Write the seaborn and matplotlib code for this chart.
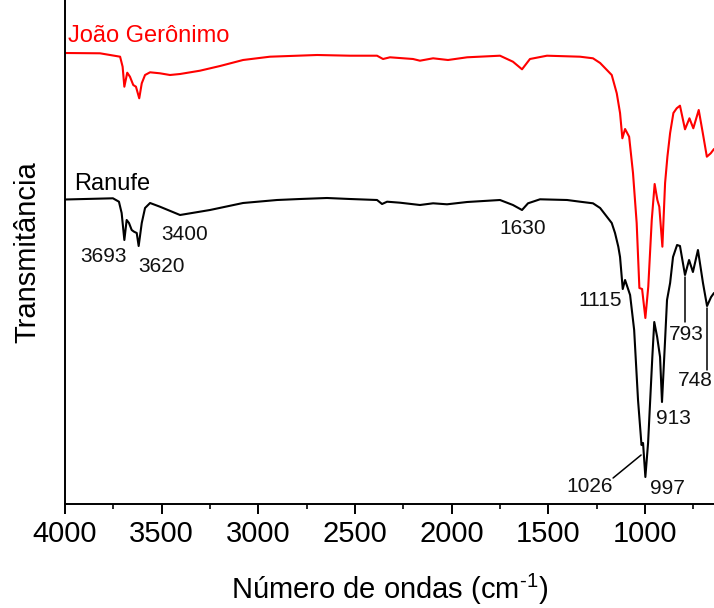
import matplotlib
matplotlib.use("Agg")
import matplotlib.pyplot as plt
import seaborn as sns
import pandas as pd

# ---- data (transmittance in arbitrary units, offset spectra) ----
ranufe_wn = [4000, 3752, 3721, 3707, 3693, 3681, 3669, 3655, 3643, 3629, 3619, 3603, 3586,
             3560, 3509, 3405, 3250, 3079, 2903, 2784, 2645, 2526, 2386, 2360, 2334, 2267,
             2164, 2096, 2024, 1920, 1750, 1683, 1636, 1605, 1543, 1403, 1336, 1269, 1232,
             1196, 1172, 1155, 1138, 1129, 1115, 1103, 1077, 1056, 1036, 1018, 1010, 998,
             984, 962, 952, 937, 922, 912, 896, 886, 870, 855, 834, 819, 793, 772, 752,
             726, 700, 679, 658, 643]
ranufe_t = [302.5, 303.7, 300.3, 289, 262, 282, 279, 272, 270.3, 269, 256, 279, 294,
            299, 295.3, 287, 292, 299, 302, 303, 304, 303, 302, 298, 300.3, 299.3,
            297, 298.7, 297.7, 300, 302, 297, 292, 298.7, 302.7, 302, 300.3, 298.7, 294,
            285, 279, 269, 255.3, 245, 213, 222, 207, 172, 102, 57, 59, 25,
            59, 145, 180, 165, 145, 100, 162, 202, 219, 245, 257, 256, 227, 242, 230,
            252, 219, 196, 205, 209]

joao_wn = [4000, 3819, 3715, 3702, 3693, 3678, 3664, 3647, 3633, 3616, 3603, 3586, 3560,
           3509, 3457, 3405, 3302, 3198, 3079, 2940, 2696, 2526, 2386, 2355, 2319, 2200,
           2164, 2096, 2019, 1920, 1750, 1683, 1636, 1595, 1507, 1336, 1269, 1232, 1172,
           1146, 1129, 1117, 1103, 1082, 1062, 1043, 1029, 1015, 998, 983, 965, 950,
           936, 926, 910, 896, 884, 870, 853, 836, 819, 793, 770, 750, 722, 701, 680,
           660, 643]
joao_t = [449, 448.7, 445.3, 435.3, 415.3, 429.3, 425.3, 417, 415.3, 403.7, 418.7, 427, 429.7,
          428.7, 427, 428, 431.3, 436, 442, 445.3, 447, 446.3, 446.3, 443, 444.7, 443,
          441.3, 443.7, 442, 444.7, 446.3, 440.3, 432.7, 443, 446.3, 445.3, 443.7, 439, 427,
          408.7, 389, 363.7, 373, 365.3, 329, 279, 214, 213, 184, 215.3, 282, 318,
          302, 295.3, 255.3, 319, 345.3, 369, 389, 393.7, 396.3, 372.7, 383.7, 373.7, 392, 369, 345.3,
          348.7, 353]

series_names = ["João Gerônimo", "Ranufe"]
series_colors = ["#ff0000", "#000000"]

peak_labels = ["3693", "3620", "3400", "1630", "1115", "1026", "997", "913", "793", "748"]
peak_text_wn = [3803, 3503, 3379, 1631, 1232, 1284, 886, 855, 788, 741]
peak_text_t = [245, 235, 268, 274, 201, 16, 13, 84, 167, 121]

xticks_major = [4000, 3500, 3000, 2500, 2000, 1500, 1000]
xticks_minor = [3750, 3250, 2750, 2250, 1750, 1250, 750]

# ---- styling ----
sns.set_theme(style="white")
plt.rcParams["font.family"] = ["Liberation Sans", "DejaVu Sans"]
plt.rcParams["mathtext.fontset"] = "custom"
plt.rcParams["mathtext.rm"] = "Liberation Sans"
plt.rcParams["mathtext.it"] = "Liberation Sans:italic"

fig = plt.figure(figsize=(7.14, 6.08), dpi=100)
ax = fig.add_axes([65 / 714, 1 - 504 / 608, 1 - 65 / 714, 504 / 608])

df_r = pd.DataFrame({"wn": ranufe_wn, "t": ranufe_t})
df_j = pd.DataFrame({"wn": joao_wn, "t": joao_t})
sns.lineplot(data=df_j, x="wn", y="t", ax=ax, color=series_colors[0], lw=1.5,
             estimator=None, sort=False)
sns.lineplot(data=df_r, x="wn", y="t", ax=ax, color=series_colors[1], lw=1.5,
             estimator=None, sort=False)

ax.set_xlim(4000, 643)
ax.set_ylim(-2, 502)

ax.set_xticks(xticks_major)
ax.set_xticks(xticks_minor, minor=True)
ax.set_yticks([])
ax.tick_params(axis="x", which="major", direction="out", length=7.5, width=1.4,
               labelsize=21, pad=4, bottom=True, colors="black")
ax.tick_params(axis="x", which="minor", direction="out", length=3.8, width=1.4,
               bottom=True)

for side in ["top", "right"]:
    ax.spines[side].set_visible(False)
for side in ["left", "bottom"]:
    ax.spines[side].set_color("black")
    ax.spines[side].set_linewidth(1.4)

ax.set_xlabel(r"Número de ondas (cm$^{\text{-}1}$)", fontsize=21, labelpad=17, color="black")
ax.set_ylabel("Transmitância", fontsize=21, labelpad=17, color="black")

# series names
ax.text(3984, 466, series_names[0], color=series_colors[0], fontsize=17,
        ha="left", va="center")
ax.text(3953, 318, series_names[1], color=series_colors[1], fontsize=17,
        ha="left", va="center")

# peak annotations
for lab, xw, yt in zip(peak_labels, peak_text_wn, peak_text_t):
    ax.text(xw, yt, lab, fontsize=15, ha="center", va="center", color="#111111")

# leader lines
ax.plot([1165, 1020], [24, 47], color="black", lw=1.1)
ax.plot([793, 793], [225, 180], color="black", lw=1.1)
ax.plot([679, 679], [194, 132], color="black", lw=1.1)

fig.savefig("out.png", dpi=100)
